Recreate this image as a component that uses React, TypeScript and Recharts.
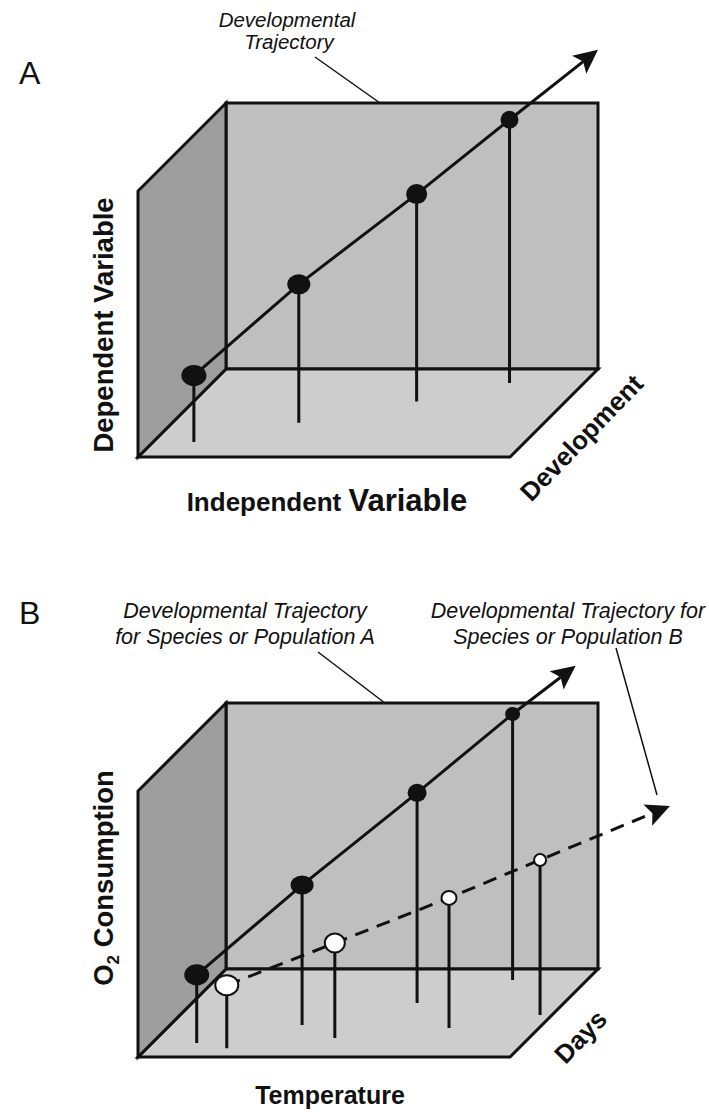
import React from "react";
import {
  ScatterChart,
  Scatter,
  XAxis,
  YAxis,
  ReferenceLine,
  ReferenceDot,
} from "recharts";

// development stages shown along each trajectory
const stages = [1, 2, 3, 4];

// panel A, in box units (0..1 on each axis)
const aIndependent = [0.11, 0.34, 0.6, 0.8];
const aDependent = [0.25, 0.52, 0.78, 0.99];
const aDevelopment = [0.17, 0.39, 0.63, 0.84];
const aTip = [1.0, 1.2, 1.0];

// panel B, species or population A
const bTemperature = [0.12, 0.355, 0.605, 0.8];
const bConsumption = [0.256, 0.526, 0.79, 1.0];
const bDays = [0.16, 0.364, 0.614, 0.875];
const bTip = [0.94, 1.14, 1.0];

// panel B, species or population B
const cTemperature = [0.215, 0.478, 0.758, 0.968];
const cConsumption = [0.237, 0.357, 0.489, 0.583];
const cDays = [0.1, 0.216, 0.33, 0.477];
const cTip = [1.288, 0.745, 0.6];

// box faces, corners as [x, y, depth]
const backWall = [[0, 0, 1], [1, 0, 1], [1, 1, 1], [0, 1, 1]];
const leftWall = [[0, 0, 0], [0, 0, 1], [0, 1, 1], [0, 1, 0]];
const floor = [[0, 0, 0], [1, 0, 0], [1, 0, 1], [0, 0, 1]];

const W = 709;
const H = 1117;
const BOX_LEFT = 138;
const BOX_W = 372;
const BOX_H = 266;
const BOX_D = 88;
const FLOOR_A = 457;
const FLOOR_B = 1057;

const INK = "#111";
const FONT = "'Liberation Sans', Arial, Helvetica, sans-serif";

const BLACK_A = { rx: [12.5, 11.5, 10.5, 9], ry: [10.5, 10, 10, 9] };
const BLACK_B = { rx: [12.5, 11.5, 9.5, 7.5], ry: [10.5, 9.5, 9, 7] };
const WHITE_B = { rx: [12.5, 11, 8.5, 7], ry: [11, 10.5, 8, 7] };

type Pt = { x: number; y: number };

const project = (p: number[], base: number) => ({
  px: BOX_LEFT + p[0] * BOX_W + p[2] * BOX_D,
  py: base - p[1] * BOX_H - p[2] * BOX_D,
});

const pathOf = (pts: Pt[], close: boolean) =>
  pts.map((p, i) => `${i ? "L" : "M"}${p.x},${p.y}`).join(" ") +
  (close ? " Z" : "");

const trajectoryData = (
  xs: number[],
  ys: number[],
  zs: number[],
  tip: number[],
  base: number
) => [
  ...stages.map((s, i) => ({ ...project([xs[i], ys[i], zs[i]], base), stage: i })),
  project(tip, base),
];

const stemData = (xs: number[], ys: number[], zs: number[], base: number) =>
  stages.flatMap((s, i) => [
    project([xs[i], ys[i], zs[i]], base),
    project([xs[i], 0, zs[i]], base),
  ]);

const faceData = (corners: number[][], base: number) =>
  corners.map((c) => project(c, base));

const noMark = () => <g />;

const face = (fill: string) => (props: any) => (
  <path
    d={pathOf(props.points, true)}
    fill={fill}
    stroke={INK}
    strokeWidth={3}
    strokeLinejoin="miter"
  />
);

const stems = (props: any) => {
  const pts: Pt[] = props.points;
  let d = "";
  for (let i = 0; i + 1 < pts.length; i += 2) {
    d += `M${pts[i].x},${pts[i].y} L${pts[i + 1].x},${pts[i + 1].y} `;
  }
  return <path d={d} stroke={INK} strokeWidth={3} fill="none" />;
};

const trajectory = (dashed: boolean) => (props: any) => {
  const pts: Pt[] = props.points;
  const tip = pts[pts.length - 1];
  const prev = pts[pts.length - 2];
  const len = Math.hypot(tip.x - prev.x, tip.y - prev.y);
  const ux = (tip.x - prev.x) / len;
  const uy = (tip.y - prev.y) / len;
  const nx = -uy;
  const ny = ux;
  const L = 24;
  const HW = 11.5;
  const N = 5;
  const notch = { x: tip.x - ux * (L - N), y: tip.y - uy * (L - N) };
  const head = [
    tip,
    { x: tip.x - ux * L + nx * HW, y: tip.y - uy * L + ny * HW },
    notch,
    { x: tip.x - ux * L - nx * HW, y: tip.y - uy * L - ny * HW },
  ];
  return (
    <g>
      <path
        d={pathOf([...pts.slice(0, -1), notch], false)}
        fill="none"
        stroke={INK}
        strokeWidth={3}
        strokeDasharray={dashed ? "14 9" : undefined}
      />
      <path d={pathOf(head, true)} fill={INK} />
    </g>
  );
};

const dot = (sizes: { rx: number[]; ry: number[] }, white: boolean) => (p: any) => {
  const stage = p.payload?.stage;
  if (stage === undefined) return <g />;
  return (
    <ellipse
      cx={p.cx}
      cy={p.cy}
      rx={sizes.rx[stage] - (white ? 1 : 0)}
      ry={sizes.ry[stage] - (white ? 1 : 0)}
      fill={white ? "#fff" : INK}
      stroke={INK}
      strokeWidth={white ? 2 : 0}
    />
  );
};

const note = (
  key: string,
  x: number,
  y: number,
  body: React.ReactNode,
  opts: { size: number; bold?: boolean; italic?: boolean; angle?: number; anchor?: string }
) => (
  <ReferenceDot
    key={key}
    x={x}
    y={y}
    r={1}
    shape={(p: any) => (
      <text
        x={p.cx}
        y={p.cy}
        fill={INK}
        fontFamily={FONT}
        fontSize={opts.size}
        fontWeight={opts.bold ? 700 : 400}
        fontStyle={opts.italic ? "italic" : "normal"}
        textAnchor={opts.anchor ?? "middle"}
        transform={opts.angle ? `rotate(${opts.angle} ${p.cx} ${p.cy})` : undefined}
      >
        {body}
      </text>
    )}
  />
);

const leader = (key: string, a: Pt, b: Pt) => (
  <ReferenceLine
    key={key}
    segment={[a, b]}
    stroke={INK}
    strokeWidth={1.5}
  />
);

const boxFaces = (base: number, tag: string) => [
  <Scatter key={tag + "back"} data={faceData(backWall, base)} shape={noMark} line={face("#bfbfbf")} isAnimationActive={false} />,
  <Scatter key={tag + "floor"} data={faceData(floor, base)} shape={noMark} line={face("#cdcdcd")} isAnimationActive={false} />,
  <Scatter key={tag + "left"} data={faceData(leftWall, base)} shape={noMark} line={face("#9e9e9e")} isAnimationActive={false} />,
];

export default function App() {
  return (
    <div style={{ position: "absolute", left: 0, top: 0, background: "#fff" }}>
      <ScatterChart width={W} height={H} margin={{ top: 0, right: 0, bottom: 0, left: 0 }}>
        <XAxis type="number" dataKey="px" domain={[0, W]} allowDataOverflow hide />
        <YAxis type="number" dataKey="py" domain={[0, H]} allowDataOverflow reversed hide />

        {/* panel A */}
        {boxFaces(FLOOR_A, "a")}
        <Scatter data={stemData(aIndependent, aDependent, aDevelopment, FLOOR_A)} shape={noMark} line={stems} isAnimationActive={false} />
        <Scatter
          data={trajectoryData(aIndependent, aDependent, aDevelopment, aTip, FLOOR_A)}
          shape={dot(BLACK_A, false)}
          line={trajectory(false)}
          isAnimationActive={false}
        />
        {leader("la", { x: 315, y: 57 }, { x: 452, y: 154 })}

        {/* panel B */}
        {boxFaces(FLOOR_B, "b")}
        <Scatter data={stemData(bTemperature, bConsumption, bDays, FLOOR_B)} shape={noMark} line={stems} isAnimationActive={false} />
        <Scatter data={stemData(cTemperature, cConsumption, cDays, FLOOR_B)} shape={noMark} line={stems} isAnimationActive={false} />
        <Scatter
          data={trajectoryData(bTemperature, bConsumption, bDays, bTip, FLOOR_B)}
          shape={dot(BLACK_B, false)}
          line={trajectory(false)}
          isAnimationActive={false}
        />
        <Scatter
          data={trajectoryData(cTemperature, cConsumption, cDays, cTip, FLOOR_B)}
          shape={dot(WHITE_B, true)}
          line={trajectory(true)}
          isAnimationActive={false}
        />
        {leader("lb1", { x: 318, y: 652 }, { x: 453, y: 755 })}
        {leader("lb2", { x: 616, y: 648 }, { x: 657, y: 795 })}

        {/* text */}
        {note("A", 19, 84, "A", { size: 32, anchor: "start" })}
        {note("t1", 287, 27, "Developmental", { size: 20.5, italic: true })}
        {note("t2", 289, 49, "Trajectory", { size: 20.5, italic: true })}
        {note("ya", 113, 325, "Dependent Variable", { size: 27.5, bold: true, angle: -90 })}
        {note(
          "xa",
          327,
          511,
          [
            <tspan key="i">Independent </tspan>,
            <tspan key="v" fontSize={31}>Variable</tspan>,
          ],
          { size: 26, bold: true }
        )}
        {note("za", 588, 444, "Development", { size: 26, bold: true, angle: -46 })}

        {note("B", 19, 624, "B", { size: 32, anchor: "start" })}
        {note("b1", 245, 618, "Developmental Trajectory", { size: 21.5, italic: true })}
        {note("b2", 245, 644, "for Species or Population A", { size: 21.5, italic: true })}
        {note("b3", 568, 618, "Developmental Trajectory for", { size: 21.5, italic: true })}
        {note("b4", 568, 644, "Species or Population B", { size: 21.5, italic: true })}
        {note(
          "yb",
          113,
          878,
          [
            <tspan key="o">O</tspan>,
            <tspan key="2" fontSize={17} dy={6}>2</tspan>,
            <tspan key="c" dy={-6}> Consumption</tspan>,
          ],
          { size: 27.5, bold: true, angle: -90 }
        )}
        {note("xb", 330, 1104, "Temperature", { size: 25, bold: true })}
        {note("zb", 587, 1043, "Days", { size: 26, bold: true, angle: -46 })}
      </ScatterChart>
    </div>
  );
}
